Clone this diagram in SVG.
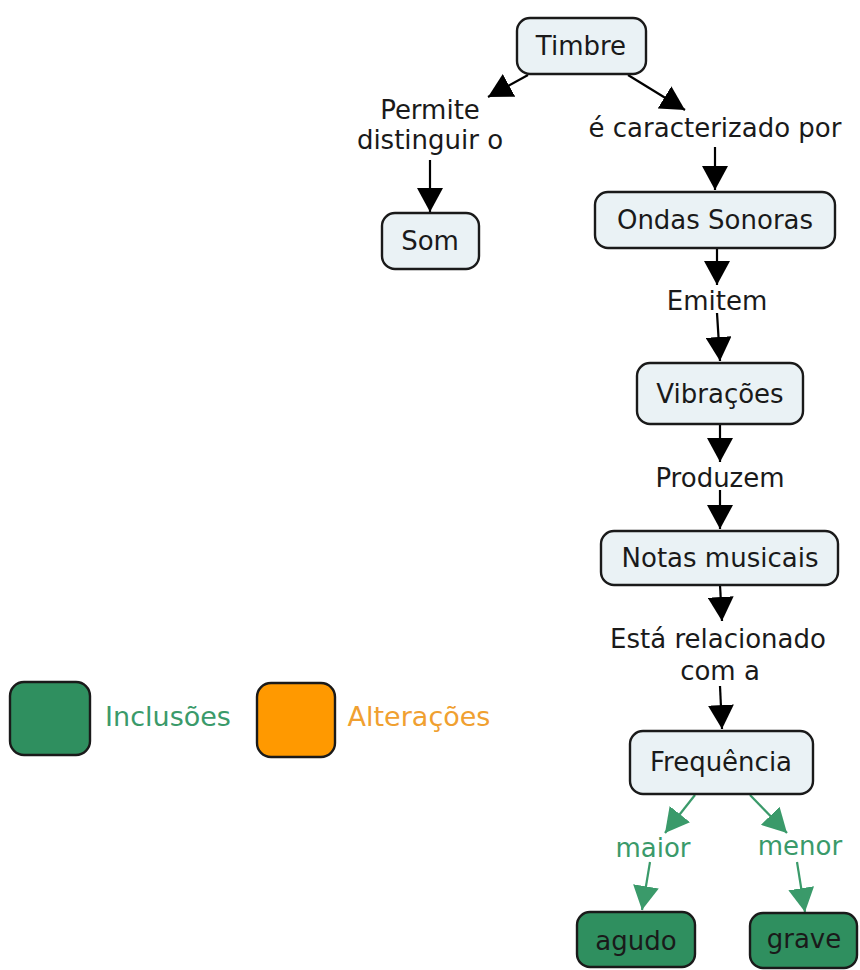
<svg xmlns="http://www.w3.org/2000/svg" width="860" height="970" viewBox="0 0 860 970">
<defs>
<style>
.node rect{fill:#eaf2f5;stroke:#1a1a1a;stroke-width:2.4}
.inc rect{fill:#2f8f5f;stroke:#1a1a1a;stroke-width:2.4}
text{font-family:"DejaVu Sans","Liberation Sans",sans-serif;font-size:26px;text-anchor:middle;fill:#1a1a1a}
.lbl{fill:#1a1a1a}
.glbl{fill:#3a9a6a}
.c{stroke:#000;stroke-width:2.2;fill:none;marker-end:url(#ah)}
.g{stroke:#3a9a6a;stroke-width:2.2;fill:none;marker-end:url(#ahg)}
</style>
<marker id="ah" markerUnits="userSpaceOnUse" markerWidth="25" markerHeight="26" refX="24" refY="13" orient="auto" viewBox="0 0 25 26">
<path d="M0,0 L24,13 L0,26 z" fill="#000"/>
</marker>
<marker id="ahg" markerUnits="userSpaceOnUse" markerWidth="25" markerHeight="26" refX="24" refY="13" orient="auto" viewBox="0 0 25 26">
<path d="M0,0 L24,13 L0,26 z" fill="#3a9a6a"/>
</marker>
</defs>
<rect width="860" height="970" fill="#fff"/>

<g id="connectors">
<line class="c" x1="528" y1="75" x2="488" y2="97"/>
<line class="c" x1="628" y1="75" x2="685" y2="110"/>
<line class="c" x1="430" y1="160" x2="430" y2="212"/>
<line class="c" x1="715" y1="147" x2="715" y2="190"/>
<line class="c" x1="717" y1="248" x2="717" y2="285"/>
<line class="c" x1="717" y1="313" x2="720" y2="361"/>
<line class="c" x1="720" y1="424" x2="720" y2="462"/>
<line class="c" x1="720" y1="490" x2="720" y2="529"/>
<line class="c" x1="720" y1="585" x2="722" y2="621"/>
<line class="c" x1="720" y1="686" x2="722" y2="729"/>
<line class="g" x1="695" y1="795" x2="665" y2="833"/>
<line class="g" x1="750" y1="795" x2="787" y2="833"/>
<line class="g" x1="650" y1="862" x2="642" y2="910"/>
<line class="g" x1="797" y1="862" x2="805" y2="912"/>
</g>

<g id="labels">
<text class="lbl" x="430" y="119">Permite</text>
<text class="lbl" x="430" y="149">distinguir o</text>
<text class="lbl" x="715" y="137">é caracterizado por</text>
<text class="lbl" x="717" y="310">Emitem</text>
<text class="lbl" x="720" y="487">Produzem</text>
<text class="lbl" x="718" y="648">Está relacionado</text>
<text class="lbl" x="720" y="680">com a</text>
<text class="glbl" x="653" y="857">maior</text>
<text class="glbl" x="800" y="855">menor</text>
</g>

<g id="timbre" class="node"><rect x="517" y="18" width="129" height="56" rx="13"/><text x="581" y="55">Timbre</text></g>
<g id="som" class="node"><rect x="382" y="213" width="97" height="56" rx="13"/><text x="430" y="250">Som</text></g>
<g id="ondas" class="node"><rect x="595" y="192" width="240" height="56" rx="13"/><text x="715" y="229">Ondas Sonoras</text></g>
<g id="vibracoes" class="node"><rect x="637" y="363" width="166" height="61" rx="13"/><text x="720" y="403">Vibrações</text></g>
<g id="notas" class="node"><rect x="601" y="531" width="237" height="54" rx="13"/><text x="720" y="567">Notas musicais</text></g>
<g id="frequencia" class="node"><rect x="630" y="731" width="183" height="63" rx="13"/><text x="721" y="771">Frequência</text></g>
<g id="agudo" class="inc"><rect x="577" y="912" width="118" height="55" rx="13"/><text x="636" y="950">agudo</text></g>
<g id="grave" class="inc"><rect x="750" y="913" width="107" height="55" rx="13"/><text x="804" y="948">grave</text></g>

<g id="legend-inclusoes"><rect x="10" y="682" width="80" height="73" rx="14" fill="#2f8f5f" stroke="#1a1a1a" stroke-width="2.4"/><text x="168" y="726" style="font-size:27px;fill:#3a9a6a">Inclusões</text></g>
<g id="legend-alteracoes"><rect x="257" y="683" width="78" height="74" rx="14" fill="#ff9900" stroke="#1a1a1a" stroke-width="2.4"/><text x="419" y="726" style="font-size:27px;fill:#f0a030">Alterações</text></g>
</svg>
